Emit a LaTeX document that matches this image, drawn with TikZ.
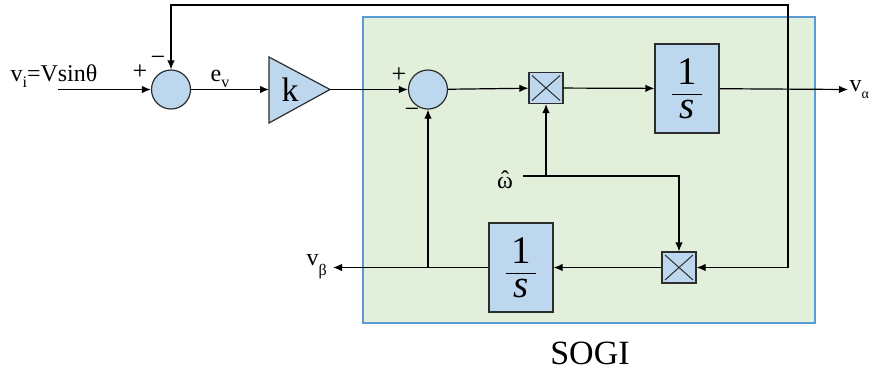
\documentclass[tikz,border=0pt]{standalone}
\usepackage{fontspec}
\usepackage{amsmath}
\setmainfont{Liberation Serif}
\usetikzlibrary{arrows.meta}
\definecolor{sogigreen}{RGB}{226,239,218}
\definecolor{sogiblue}{RGB}{91,155,213}
\definecolor{blockfill}{RGB}{189,215,238}
\definecolor{blockedge}{RGB}{45,45,45}
\begin{document}
\begin{tikzpicture}[x=1pt,y=-1pt, line width=1.2pt,
  arr/.style={-{Latex[length=9pt,width=7.5pt]}},
  sumnode/.style={circle, draw=blockedge, fill=blockfill, minimum size=39pt, inner sep=0pt},
  mulnode/.style={rectangle, draw=blockedge, fill=blockfill, minimum width=34pt, minimum height=31pt, inner sep=0pt,
    path picture={\draw[line width=1pt] ([shift={(3pt,-3pt)}]path picture bounding box.north west) -- ([shift={(-3pt,3pt)}]path picture bounding box.south east);
                  \draw[line width=1pt] ([shift={(-3pt,-3pt)}]path picture bounding box.north east) -- ([shift={(3pt,3pt)}]path picture bounding box.south west);}},
  intnode/.style={rectangle, draw=blockedge, fill=blockfill, minimum width=64pt, minimum height=89pt, inner sep=0pt,
    font=\fontsize{39}{41}\selectfont},
  lbl/.style={font=\fontsize{24}{26}\selectfont, inner sep=0pt},
  sgn/.style={font=\fontsize{26}{28}\selectfont, inner sep=0pt}
]
\useasboundingbox (0,0) rectangle (875,373);
% SOGI frame
\draw[sogiblue, fill=sogigreen, line width=1.5pt] (363,17) rectangle (815,323);
\node[font=\fontsize{34}{36}\selectfont, inner sep=0pt] (sogi) at (590,353) {SOGI};

% blocks
\node[sumnode] (sum1) at (171,89.5) {};
\node[sumnode] (sum2) at (428,89.5) {};
\node[mulnode] (mul1) at (546,88) {};
\node[mulnode] (mul2) at (679,267.5) {};
\node[intnode] (int1) at (687,88.5) {$\dfrac{\makebox[30pt]{\text{1}}}{\textit{s}}$};
\node[intnode] (int2) at (521,267.5) {$\dfrac{\makebox[30pt]{\text{1}}}{\textit{s}}$};

% gain triangle
\coordinate (kin) at (269,89.5);
\coordinate (kout) at (330,89.5);
\draw[draw=blockedge, fill=blockfill] (269,57) -- (kout) -- (269,123) -- cycle;
\node[font=\fontsize{34}{36}\selectfont, inner sep=0pt] (kgain) at (290,89.5) {k};

% labels
\node[lbl, anchor=base west] (vin) at (10,81) {v\raisebox{-6pt}{\fontsize{16}{16}\selectfont i}=Vsinθ};
\node[lbl, anchor=base west] (ev) at (210,81) {e\raisebox{-6pt}{\fontsize{16}{16}\selectfont v}};
\node[sgn] (p1) at (140,72) {+};
\node[sgn] (m1) at (158,61) {−};
\node[sgn] (p2) at (399,75) {+};
\node[sgn] (m2) at (412,113) {−};
\node[lbl, anchor=base west] (va) at (849,91) {v\raisebox{-7pt}{\fontsize{14}{14}\selectfont α}};
\node[lbl, anchor=base west] (vb) at (306,265) {v\raisebox{-10pt}{\fontsize{16}{16}\selectfont β}};
\node[lbl, anchor=base] (w) at (505,188) {\ooalign{ω\cr\hfil\raisebox{1pt}{ˆ}\hfil\cr}};

% coordinates
\coordinate (vinstart) at (58,89.5);
\coordinate (vaend) at (848,89.5);
\coordinate (fb) at (788,89.5);
\coordinate (ftop) at (171,5);
\coordinate (wstart) at (523,176);
\coordinate (wj) at (546,176);
\coordinate (vbend) at (333,267.5);
\coordinate (bj) at (428,267.5);

% connectors
\draw[arr] (vinstart) -- (sum1);
\draw[arr] (sum1) -- (kin);
\draw[arr] (kout) -- (sum2);
\draw[arr] (sum2) -- (mul1);
\draw[arr] (mul1) -- (int1);
\draw[arr] (int1) -- (vaend);
\draw[arr] (fb) |- (ftop) -- (sum1);
\draw[arr] (fb) |- (mul2);
\draw[arr] (wstart) -| (mul2);
\draw[arr] (wj) -- (mul1);
\draw[arr] (mul2) -- (int2);
\draw[arr] (int2) -- (vbend);
\draw[arr] (bj) -- (sum2);
\end{tikzpicture}
\end{document}
